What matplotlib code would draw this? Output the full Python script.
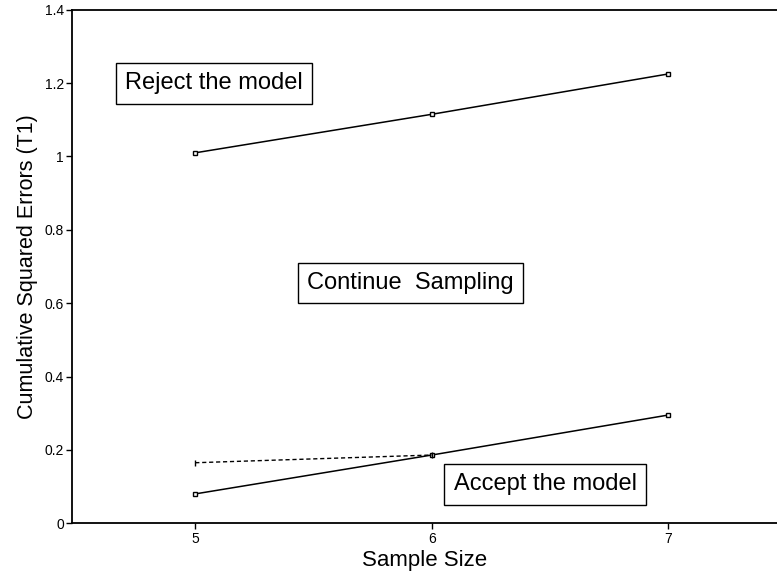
import matplotlib.pyplot as plt

plt.rcParams["font.family"] = ["Liberation Sans", "DejaVu Sans"]

sample_size = [5, 6, 7]
reject_bound = [1.01, 1.115, 1.225]
accept_bound = [0.08, 0.186, 0.295]
t1_observed = [0.165, 0.186]

fig = plt.figure(figsize=(7.77, 5.75), dpi=100)
ax = fig.add_axes([0.093, 0.090, 0.907, 0.893])

# upper and lower decision boundaries
ax.plot(sample_size, reject_bound, color="black", lw=1.1,
        marker="s", ms=3.5, mfc="white", mec="black", mew=1)
ax.plot(sample_size, accept_bound, color="black", lw=1.1,
        marker="s", ms=3.5, mfc="white", mec="black", mew=1)

# observed statistic
ax.plot(sample_size[:2], t1_observed, color="black", lw=1.0,
        linestyle=(0, (3, 2)), marker="|", ms=4)

box = dict(boxstyle="square,pad=0.4", fc="white", ec="black", lw=1)
ax.text(5.08, 1.2, "Reject the model", fontsize=17, ha="center", va="center", bbox=box)
ax.text(5.91, 0.655, "Continue  Sampling", fontsize=17, ha="center", va="center", bbox=box)
ax.text(6.48, 0.106, "Accept the model", fontsize=17, ha="center", va="center", bbox=box)

ax.set_xlim(4.48, 7.46)
ax.set_ylim(0, 1.4)
ax.set_xticks(sample_size)
ax.set_yticks([0, 0.2, 0.4, 0.6, 0.8, 1, 1.2, 1.4])
ax.set_yticklabels(["0", "0.2", "0.4", "0.6", "0.8", "1", "1.2", "1.4"])
ax.tick_params(labelsize=10, length=4, width=1, direction="out", pad=2)

ax.spines["right"].set_visible(False)
for s in ["left", "top", "bottom"]:
    ax.spines[s].set_linewidth(1.3)

ax.set_xlabel("Sample Size", fontsize=16, labelpad=3)
ax.set_ylabel("Cumulative Squared Errors (T1)", fontsize=15.5, labelpad=5)

fig.savefig("out.png", dpi=100)
